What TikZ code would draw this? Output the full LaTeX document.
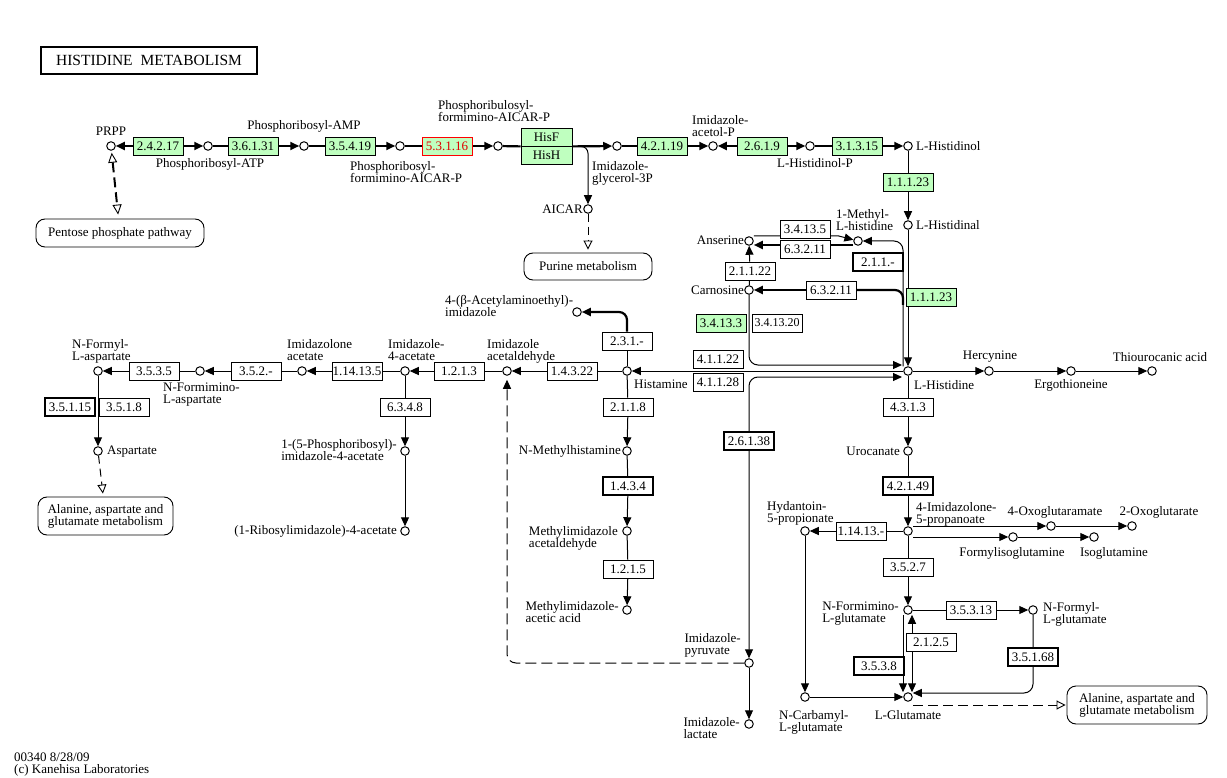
\documentclass[tikz,border=0pt]{standalone}
\usepackage{fontspec}
\setmainfont{Liberation Serif}
\usetikzlibrary{arrows.meta,calc}
\definecolor{kgreen}{HTML}{BFFFBF}
\definecolor{kred}{HTML}{E00000}
\pgfdeclarelayer{bg}
\pgfdeclarelayer{edges}
\pgfsetlayers{bg,edges,main}
\newcommand\lblfont{\fontsize{13}{12}\selectfont}
\newcommand\enzfont{\fontsize{13}{12}\selectfont}
\begin{document}
\begin{tikzpicture}[x=1pt,y=-1pt,
  cpd/.style={circle,draw,line width=1pt,minimum size=8.5pt,inner sep=0pt,fill=white},
  enz/.style={draw,line width=0.8pt,minimum width=50pt,minimum height=18pt,inner sep=0pt,fill=white,font=\enzfont},
  genz/.style={enz,fill=kgreen},
  benz/.style={enz,line width=1.8pt},
  lbl/.style={font=\lblfont,inner sep=0pt,align=left},
  pbox/.style={draw,rounded corners=9pt,line width=0.9pt,font=\lblfont,align=center,fill=white,inner sep=0pt},
  ln/.style={line width=1pt},
  tk/.style={line width=2.2pt},
  arr/.style={-{Triangle[length=9pt,width=8pt]}},
  barr/.style={{Triangle[length=9pt,width=8pt]}-{Triangle[length=9pt,width=8pt]}},
  oarr/.style={-{Triangle[open,length=9pt,width=9pt,line width=0.9pt]}},
  doarr/.style={{Triangle[open,length=10pt,width=9pt,line width=0.9pt]}-{Triangle[open,length=10pt,width=9pt,line width=0.9pt]}},
  dk/.style={line width=2pt,dash pattern=on 10pt off 5pt},
  dl/.style={line width=1pt,dash pattern=on 10pt off 5pt},
]
\begin{pgfonlayer}{bg}
\fill[white] (0,0) rectangle (1227,778);
\end{pgfonlayer}
\useasboundingbox (0,0) rectangle (1227,778);

% title and footer
\node[draw,line width=2.5pt,minimum width=216pt,minimum height=27pt,inner sep=0pt,font=\fontsize{15.5}{15}\selectfont] (title) at (149,60.5) {HISTIDINE\hspace{8pt}METABOLISM};
\node[lbl,anchor=west] (f1) at (14,757) {00340 8/28/09};
\node[lbl,anchor=west] (f2) at (14,770) {(c) Kanehisa Laboratories};

% compounds
\node[cpd] (prpp) at (111,146) {};
\node[cpd] (patp) at (208,146) {};
\node[cpd] (pamp) at (304,146) {};
\node[cpd] (pfap) at (400,146) {};
\node[cpd] (prfap) at (498,146) {};
\node[cpd] (igp) at (617,146) {};
\node[cpd] (iap) at (713,146) {};
\node[cpd] (hlp) at (810,146) {};
\node[cpd] (hol) at (908,146) {};
\node[cpd] (hal) at (908,225) {};
\node[cpd] (his) at (908,371) {};
\node[cpd] (aicar) at (588,209) {};
\node[cpd] (ans) at (749,241) {};
\node[cpd] (mhis) at (858,241) {};
\node[cpd] (car) at (749,290) {};
\node[cpd] (acet) at (577,312) {};
\node[cpd] (hista) at (627,371) {};
\node[cpd] (iacal) at (507,371) {};
\node[cpd] (i4a) at (405,371) {};
\node[cpd] (iza) at (302,371) {};
\node[cpd] (nfia) at (200,371) {};
\node[cpd] (nfa) at (98,371) {};
\node[cpd] (asp) at (98,451) {};
\node[cpd] (pri4a) at (405,451) {};
\node[cpd] (ri4a) at (405,531) {};
\node[cpd] (nmh) at (627,451) {};
\node[cpd] (mia) at (627,531) {};
\node[cpd] (miaa) at (627,610) {};
\node[cpd] (ipyr) at (749,663) {};
\node[cpd] (ilac) at (749,724) {};
\node[cpd] (herc) at (989,371) {};
\node[cpd] (ergo) at (1071,371) {};
\node[cpd] (thio) at (1152,371) {};
\node[cpd] (uro) at (908,451) {};
\node[cpd] (imp) at (908,531) {};
\node[cpd] (hyd) at (805,531) {};
\node[cpd] (oxa) at (1051,526) {};
\node[cpd] (oxg) at (1132,526) {};
\node[cpd] (fig) at (1013,537) {};
\node[cpd] (isg) at (1094,537) {};
\node[cpd] (nfg) at (908,610) {};
\node[cpd] (nfylg) at (1033,610) {};
\node[cpd] (glu) at (908,697) {};
\node[cpd] (ncg) at (805,697) {};

% enzymes
\node[genz] (e1) at (158,146) {2.4.2.17};
\node[genz] (e2) at (253,146) {3.6.1.31};
\node[genz] (e3) at (350,146) {3.5.4.19};
\node[genz,draw=red,text=kred] (e4) at (447,146) {5.3.1.16};
\node[genz,minimum width=51pt] (hisf) at (546.5,137) {HisF};
\node[genz,minimum width=51pt] (hish) at (546.5,155) {HisH};
\node[genz] (e5) at (662,146) {4.2.1.19};
\node[genz] (e6) at (762,146) {2.6.1.9};
\node[genz] (e7) at (857,146) {3.1.3.15};
\node[genz] (e8) at (908,182) {1.1.1.23};
\node[genz] (e9) at (931,297) {1.1.1.23};
\node[enz] (e10) at (805,229) {3.4.13.5};
\node[enz] (e11) at (805,249) {6.3.2.11};
\node[benz] (e12) at (878,262) {2.1.1.-};
\node[enz] (e13) at (831,290) {6.3.2.11};
\node[enz] (e14) at (750,271) {2.1.1.22};
\node[genz] (e15) at (721,323) {3.4.13.3};
\node[enz,font=\fontsize{12}{12}\selectfont] (e16) at (777,323) {3.4.13.20};
\node[enz] (e17) at (718,359) {4.1.1.22};
\node[enz] (e18) at (718,382) {4.1.1.28};
\node[benz] (e19) at (749,441) {2.6.1.38};
\node[enz] (e20) at (627,341) {2.3.1.-};
\node[enz] (e21) at (572,371) {1.4.3.22};
\node[enz] (e22) at (459,371) {1.2.1.3};
\node[enz] (e23) at (357,371) {1.14.13.5};
\node[enz] (e24) at (256,371) {3.5.2.-};
\node[enz] (e25) at (154,371) {3.5.3.5};
\node[benz] (e26) at (70,407) {3.5.1.15};
\node[enz] (e27) at (124,407) {3.5.1.8};
\node[enz] (e28) at (405,407) {6.3.4.8};
\node[enz] (e29) at (628,407) {2.1.1.8};
\node[benz] (e30) at (628,486) {1.4.3.4};
\node[enz] (e31) at (628,569) {1.2.1.5};
\node[enz] (e32) at (908,407) {4.3.1.3};
\node[benz] (e33) at (908,486) {4.2.1.49};
\node[enz] (e34) at (861,531) {1.14.13.-};
\node[enz] (e35) at (908,567) {3.5.2.7};
\node[enz] (e36) at (971,610) {3.5.3.13};
\node[benz] (e37) at (1033,657) {3.5.1.68};
\node[enz] (e38) at (931,642) {2.1.2.5};
\node[benz] (e39) at (879,666) {3.5.3.8};

% pathway boxes
\node[pbox,minimum width=168pt,minimum height=28pt] (ppp) at (120,233) {Pentose phosphate pathway};
\node[pbox,minimum width=128pt,minimum height=27pt] (purine) at (588,266.5) {Purine metabolism};
\node[pbox,minimum width=135pt,minimum height=38pt] (ala1) at (105.5,516) {Alanine, aspartate and\\glutamate metabolism};
\node[pbox,minimum width=140pt,minimum height=38pt] (ala2) at (1137,705) {Alanine, aspartate and\\glutamate metabolism};

% labels
\node[lbl] (l-prpp) at (111,131) {PRPP};
\node[lbl] (l-patp) at (210,164) {Phosphoribosyl-ATP};
\node[lbl] (l-pamp) at (304,126) {Phosphoribosyl-AMP};
\node[lbl,anchor=north west] (l-pfap) at (350,161) {Phosphoribosyl-\\formimino-AICAR-P};
\node[lbl,anchor=north west] (l-prfap) at (438,100) {Phosphoribulosyl-\\formimino-AICAR-P};
\node[lbl,anchor=north west] (l-igp) at (592,161) {Imidazole-\\glycerol-3P};
\node[lbl,anchor=east] (l-aicar) at (583,209) {AICAR};
\node[lbl,anchor=north west] (l-iap) at (692,115) {Imidazole-\\acetol-P};
\node[lbl] (l-hlp) at (815,163) {L-Histidinol-P};
\node[lbl,anchor=west] (l-hol) at (916,146) {L-Histidinol};
\node[lbl,anchor=west] (l-hal) at (916,225) {L-Histidinal};
\node[lbl,anchor=east] (l-ans) at (744,240) {Anserine};
\node[lbl,anchor=north west] (l-mhis) at (836,209) {1-Methyl-\\L-histidine};
\node[lbl,anchor=east] (l-car) at (744,290) {Carnosine};
\node[lbl,anchor=north west] (l-acet) at (445,295) {4-(β-Acetylaminoethyl)-\\imidazole};
\node[lbl,anchor=west] (l-hista) at (634,384) {Histamine};
\node[lbl,anchor=north west] (l-iacal) at (487,339) {Imidazole\\acetaldehyde};
\node[lbl,anchor=north west] (l-i4a) at (388,339) {Imidazole-\\4-acetate};
\node[lbl,anchor=north west] (l-iza) at (287,339) {Imidazolone\\acetate};
\node[lbl,anchor=north west] (l-nfia) at (163,383) {N-Formimino-\\L-aspartate};
\node[lbl,anchor=north west] (l-nfa) at (72,339) {N-Formyl-\\L-aspartate};
\node[lbl,anchor=west] (l-asp) at (107,452) {Aspartate};
\node[lbl,anchor=north east] (l-pri4a) at (397,439) {1-(5-Phosphoribosyl)-\\imidazole-4-acetate};
\node[lbl,anchor=east] (l-ri4a) at (397,531) {(1-Ribosylimidazole)-4-acetate};
\node[lbl,anchor=east] (l-nmh) at (621,451) {N-Methylhistamine};
\node[lbl,anchor=north east] (l-mia) at (618,526) {Methylimidazole\\acetaldehyde};
\node[lbl,anchor=north east] (l-miaa) at (619,601) {Methylimidazole-\\acetic acid};
\node[lbl,anchor=north east] (l-ipyr) at (741,633) {Imidazole-\\pyruvate};
\node[lbl,anchor=north east] (l-ilac) at (740,717) {Imidazole-\\lactate};
\node[lbl,anchor=west] (l-his) at (914,385) {L-Histidine};
\node[lbl] (l-herc) at (990,357) {Hercynine};
\node[lbl] (l-ergo) at (1071,385) {Ergothioneine};
\node[lbl] (l-thio) at (1160,357) {Thiourocanic acid};
\node[lbl,anchor=east] (l-uro) at (900,451) {Urocanate};
\node[lbl,anchor=north west] (l-imp) at (916,502) {4-Imidazolone-\\5-propanoate};
\node[lbl,anchor=north west] (l-hyd) at (767,501) {Hydantoin-\\5-propionate};
\node[lbl] (l-oxa) at (1055,512) {4-Oxoglutaramate};
\node[lbl] (l-oxg) at (1159,512) {2-Oxoglutarate};
\node[lbl] (l-fig) at (1012,553) {Formylisoglutamine};
\node[lbl] (l-isg) at (1114,553) {Isoglutamine};
\node[lbl,anchor=north east] (l-nfg) at (899,602) {N-Formimino-\\L-glutamate};
\node[lbl,anchor=north west] (l-nfylg) at (1043,602) {N-Formyl-\\L-glutamate};
\node[lbl,anchor=north west] (l-ncg) at (779,710) {N-Carbamyl-\\L-glutamate};
\node[lbl] (l-glu) at (908,715) {L-Glutamate};

\coordinate (j1) at (903,305);

\begin{pgfonlayer}{edges}
% top row
\draw[tk,arr] (e1) -- (prpp);
\draw[tk,arr] (e1) -- (patp);
\draw[tk] (patp) -- (e2); \draw[tk,arr] (e2) -- (pamp);
\draw[tk] (pamp) -- (e3); \draw[tk,arr] (e3) -- (pfap);
\draw[tk] (pfap) -- (e4); \draw[tk,arr] (e4) -- (prfap);
\draw[tk] (prfap) -- (hisf.south west);
\draw[tk,arr] (hisf.south east) -- (igp);
\draw[ln,arr,rounded corners=7pt] ([xshift=4pt]hisf.south east) -| (aicar);
\draw[tk] (igp) -- (e5); \draw[tk,arr] (e5) -- (iap);
\draw[tk,arr] (e6) -- (iap); \draw[tk,arr] (e6) -- (hlp);
\draw[tk] (hlp) -- (e7); \draw[tk,arr] (e7) -- (hol);
\draw[ln] (hol) -- (e8); \draw[ln,arr] (e8) -- (hal);
\draw[ln,arr] (hal) -- (his);
% pathway links
\draw[dk,doarr,shorten <=2pt,shorten >=4pt] (prpp) -- (ppp);
\draw[dl,oarr,dash pattern=on 8pt off 5pt,shorten >=3pt] (aicar) -- (purine);
\draw[dl,oarr,dash pattern=on 8pt off 5pt,shorten >=3pt] (asp) -- (ala1);
\draw[dl,oarr,shorten >=1pt] ([xshift=5pt,yshift=-8pt]glu.center) -- (ala2);
% anserine / carnosine
\draw[ln,arr] ([yshift=5pt]ans.east) -- ++(85,0) -- (mhis);
\draw[tk,arr] ([yshift=-4pt]mhis.west) -- ([yshift=-4pt]ans.east);
\draw[ln,arr,rounded corners=9pt] ([xshift=-5pt]his.north) |- (mhis);
\draw[tk,rounded corners=8pt] (e13.east) -| (j1);
\draw[tk,arr] (e13) -- (car);
\draw[ln] (car) -- (e14); \draw[ln,arr] (e14) -- (ans);
\draw[ln,arr,rounded corners=9pt] (car) |- ([xshift=-6pt,yshift=6pt]his.center);
\draw[ln,barr,rounded corners=9pt] ([xshift=-6pt,yshift=-6pt]his.center) -| (ipyr);
\draw[ln,arr] (ipyr) -- (ilac);
\draw[dl,arr,rounded corners=9pt,dash pattern=on 11pt off 5pt,shorten >=4pt] (ipyr) -| (iacal);
% histamine branch
\draw[ln,arr] (his) -- (hista);
\draw[ln] (hista) -- (e20);
\draw[tk,arr,rounded corners=8pt] (e20.north) |- (acet);
\draw[ln] (hista) -- (e21); \draw[ln,arr] (e21) -- (iacal);
\draw[ln] (iacal) -- (e22); \draw[ln,arr] (e22) -- (i4a);
\draw[ln] (i4a) -- (e23); \draw[ln,arr] (e23) -- (iza);
\draw[ln] (iza) -- (e24); \draw[ln,arr] (e24) -- (nfia);
\draw[ln] (nfia) -- (e25); \draw[ln,arr] (e25) -- (nfa);
\draw[ln,arr] (nfa) -- (asp);
\draw[ln,arr] (i4a) -- (pri4a);
\draw[ln,arr] (pri4a) -- (ri4a);
\draw[ln] (hista) -- (e29); \draw[ln,arr] (e29) -- (nmh);
\draw[ln] (nmh) -- (e30); \draw[ln,arr] (e30) -- (mia);
\draw[ln] (mia) -- (e31); \draw[ln,arr] (e31) -- (miaa);
% histidine degradation
\draw[ln,arr] (his) -- (herc);
\draw[ln,arr] (herc) -- (ergo);
\draw[ln,arr] (ergo) -- (thio);
\draw[ln] (his) -- (e32); \draw[ln,arr] (e32) -- (uro);
\draw[ln] (uro) -- (e33); \draw[ln,arr] (e33) -- (imp);
\draw[ln] (imp) -- (e34); \draw[ln,arr] (e34) -- (hyd);
\draw[ln,arr] ([xshift=5pt,yshift=5pt]imp.center) -- (oxa);
\draw[ln,arr] (oxa) -- (oxg);
\draw[ln,arr] ([xshift=5pt,yshift=-6pt]imp.center) -- (fig);
\draw[ln,arr] (fig) -- (isg);
\draw[ln] (imp) -- (e35); \draw[ln,arr] (e35) -- (nfg);
\draw[ln] (nfg) -- (e36); \draw[ln,arr] (e36) -- (nfylg);
\draw[ln,arr,rounded corners=9pt] (nfylg) |- ([yshift=4pt]glu.east);
\draw[ln,arr] ([xshift=-5pt]nfg.south) -- ([xshift=-5pt]glu.north);
\draw[ln,barr] ([xshift=4pt]nfg.south) -- ([xshift=4pt]glu.north);
\draw[ln,arr] (hyd) -- (ncg);
\draw[ln,arr] (ncg) -- (glu);
\end{pgfonlayer}
\end{tikzpicture}
\end{document}
